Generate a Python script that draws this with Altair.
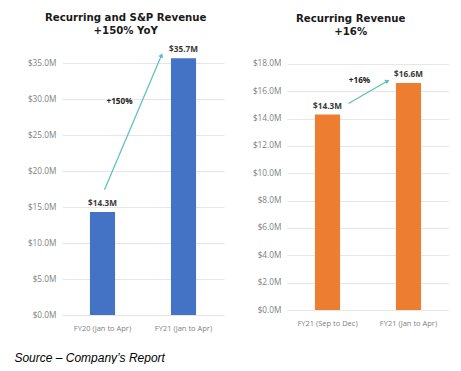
import altair as alt
import pandas as pd

# ---- data ----
left_cats = ["FY20 (Jan to Apr)", "FY21 (Jan to Apr)"]
left_vals = [14.3, 35.7]
left_labels = ["$14.3M", "$35.7M"]

right_cats = ["FY21 (Sep to Dec)", "FY21 (Jan to Apr)"]
right_vals = [14.3, 16.6]
right_labels = ["$14.3M", "$16.6M"]

# arrow annotations (start category/value -> end category/value)
left_arrow = {"c1": left_cats[0], "v1": 17.4, "c2": left_cats[1], "v2": 36.1}
left_note = {"c": left_cats[0], "v": 29.6, "t": "+150%"}
right_arrow = {"c1": right_cats[0], "v1": 15.1, "c2": right_cats[1], "v2": 16.75}
right_note = {"c": right_cats[0], "v": 16.75, "t": "+16%"}

left_ticks = [0, 5, 10, 15, 20, 25, 30, 35]
right_ticks = [0, 2, 4, 6, 8, 10, 12, 14, 16, 18]

FONT = "Open Sans"
TFONT = "DejaVu Sans"
ARROW = "#5BBDC0"


def panel(cats, vals, labels, ticks, ymax, height, color, arrow, note,
          title, subtitle, title_offset, ao, note_dx, angle):
    xscale = alt.Scale(domain=cats, paddingInner=0.69, paddingOuter=0.345)
    xaxis = alt.Axis(labelAngle=0, labelFont=FONT, labelFontSize=7.5,
                     labelColor="#7F7F7F", domain=False, ticks=False,
                     labelPadding=9)
    yscale = alt.Scale(domain=[0, ymax], nice=False)
    yaxis = alt.Axis(values=ticks, labelExpr="'$' + format(datum.value, '.1f') + 'M'",
                     labelFont=FONT, labelFontSize=8.3, labelColor="#7F7F7F",
                     labelOverlap=False, domain=False, ticks=False, labelPadding=6,
                     gridColor="#E6E6E6", gridWidth=1.2)

    def X(f):
        return alt.X(f, type="nominal", title=None, scale=xscale, axis=xaxis)

    def Y(f):
        return alt.Y(f, type="quantitative", title=None, scale=yscale, axis=yaxis)

    df = pd.DataFrame({"cat": cats, "val": vals, "lab": labels})
    base = alt.Chart(df)
    bars = base.mark_bar(color=color).encode(x=X("cat"), y=Y("val"))
    text = base.mark_text(font=FONT, fontSize=8.2, fontWeight="bold",
                          color="#3A3A3A", baseline="bottom", dy=-4).encode(
        x=X("cat"), y=Y("val"), text="lab:N")

    adf = pd.DataFrame([arrow])
    line = alt.Chart(adf).mark_rule(color=ARROW, strokeWidth=1.2,
                                    xOffset=ao[0], x2Offset=ao[1]).encode(
        x=X("c1"), x2="c2:N", y=Y("v1"), y2="v2:Q")
    head = alt.Chart(adf).mark_point(shape="triangle-up", filled=True, opacity=1,
                                     color=ARROW, size=26, angle=angle,
                                     xOffset=ao[1]).encode(
        x=X("c2"), y=Y("v2"))
    ndf = pd.DataFrame([note])
    ntext = alt.Chart(ndf).mark_text(font=FONT, fontSize=8.2, fontWeight="bold",
                                     color="#222222", dx=note_dx).encode(
        x=X("c"), y=Y("v"), text="t:N")

    return alt.layer(bars, text, line, head, ntext).properties(
        width=162, height=height,
        title=alt.TitleParams(text=title, subtitle=subtitle, font=TFONT, fontSize=10.2,
                              fontWeight="bold", color="#1A1A1A",
                              subtitleFont=TFONT, subtitleFontSize=10.2,
                              subtitleFontWeight="bold", subtitleColor="#1A1A1A",
                              subtitlePadding=3, frame="bounds",
                              anchor="middle", offset=title_offset))


left = panel(left_cats, left_vals, left_labels, left_ticks, 36, 259, "#4472C4",
             left_arrow, left_note, "Recurring and S&P Revenue", "+150% YoY",
             9, (2, -22), 17, 23)
right = panel(right_cats, right_vals, right_labels, right_ticks, 18.58, 254, "#ED7D31",
              right_arrow, right_note, "Recurring Revenue", "+16%",
              19, (21, -21), 32, 61)

chart = alt.hconcat(left, right, spacing=28).properties(
    padding={"left": 6, "top": 4, "right": 0, "bottom": 0},
    title=alt.TitleParams(text="Source – Company’s Report", orient="bottom",
                          anchor="start", font="Liberation Sans", fontStyle="italic",
                          fontWeight="normal", fontSize=12, color="black",
                          offset=21, dx=-13)
).configure_view(stroke=None)

chart.save("out.html", embed_options={"renderer": "svg", "actions": False})
